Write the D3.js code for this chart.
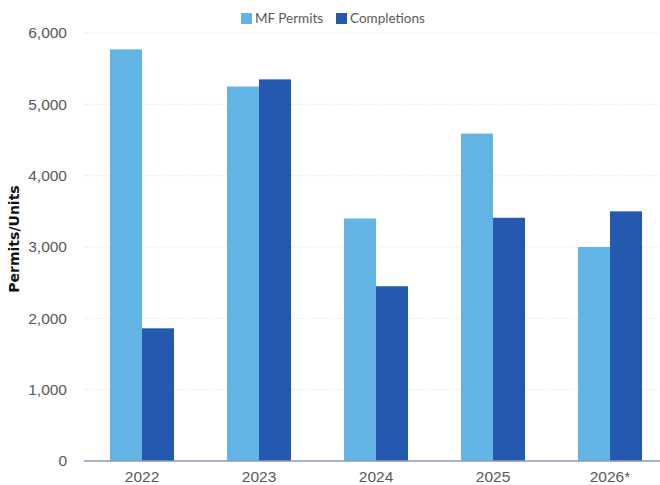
<!DOCTYPE html>
<html>
<head>
<meta charset="utf-8">
<script src="https://cdn.jsdelivr.net/npm/d3@7"></script>
<style>
  body { margin: 0; background: #fff; }
  svg { display: block; font-family: 'Lato', 'Open Sans', sans-serif; }
</style>
</head>
<body>
<svg id="chart" width="660" height="485"></svg>
<script>
const years = ['2022', '2023', '2024', '2025', '2026*'];
const seriesNames = ['MF Permits', 'Completions'];
const mfPermits = [5770, 5250, 3400, 4590, 3000];
const completions = [1860, 5350, 2450, 3410, 3500];
const yTicks = [0, 1000, 2000, 3000, 4000, 5000, 6000];
const colors = ['#62b4e4', '#2559b0'];

const margin = { top: 33, right: 0, bottom: 24, left: 84 };
const width = 660;
const height = 485;

const svg = d3.select('#chart');

const x = d3.scaleBand()
    .domain(years)
    .range([83.5, 668.5])
    .paddingInner(0.453)
    .paddingOuter(0.2265);

const xSub = d3.scaleBand()
    .domain(seriesNames)
    .range([0, x.bandwidth()]);

const y = d3.scaleLinear()
    .domain([0, 6000])
    .range([height - margin.bottom, margin.top]);

// gridlines
svg.append('g')
    .attr('class', 'grid')
    .selectAll('line')
    .data(yTicks.filter(d => d > 0))
    .enter()
    .append('line')
        .attr('x1', margin.left)
        .attr('x2', width)
        .attr('y1', d => y(d))
        .attr('y2', d => y(d))
        .attr('stroke', '#d9d9d9')
        .attr('stroke-width', 1)
        .attr('stroke-dasharray', '1,2');

// y axis labels
const yAxis = svg.append('g')
    .attr('transform', `translate(${margin.left - 17},0)`)
    .call(d3.axisLeft(y).tickValues(yTicks).tickFormat(d3.format(',')).tickSize(0).tickPadding(0));
yAxis.select('.domain').remove();
yAxis.selectAll('text')
    .attr('fill', '#595959')
    .style('font-size', '15.5px');

// bars
const rows = years.map((yr, i) => ({ year: yr, values: [mfPermits[i], completions[i]] }));

const groups = svg.append('g')
    .attr('class', 'bars')
    .selectAll('g')
    .data(rows)
    .enter()
    .append('g')
        .attr('transform', d => `translate(${x(d.year)},0)`);

groups.selectAll('rect')
    .data(d => d.values.map((v, j) => ({ key: seriesNames[j], value: v, idx: j })))
    .enter()
    .append('rect')
        .attr('x', d => xSub(d.key))
        .attr('y', d => y(d.value))
        .attr('width', xSub.bandwidth())
        .attr('height', d => y(0) - y(d.value))
        .attr('fill', d => colors[d.idx]);

// x axis
const xAxis = svg.append('g')
    .attr('transform', `translate(0,${y(0)})`)
    .call(d3.axisBottom(x).tickSize(0).tickPadding(10));
xAxis.select('.domain').remove();
xAxis.selectAll('text')
    .attr('fill', '#595959')
    .style('font-size', '15.5px');

svg.append('line')
    .attr('x1', margin.left)
    .attr('x2', width)
    .attr('y1', y(0))
    .attr('y2', y(0))
    .attr('stroke', '#8e99b6')
    .attr('stroke-width', 1.5);

// y title
svg.append('text')
    .attr('transform', `translate(19,239) rotate(-90)`)
    .attr('text-anchor', 'middle')
    .attr('fill', '#111')
    .style('font-family', "'DejaVu Sans', sans-serif")
    .style('font-size', '14px')
    .style('font-weight', 'bold')
    .text('Permits/Units');

// legend
const legendX = [241, 336];
const legend = svg.append('g')
    .attr('class', 'legend')
    .selectAll('g')
    .data(seriesNames)
    .enter()
    .append('g')
        .attr('transform', (d, i) => `translate(${legendX[i]},13)`);

legend.append('rect')
    .attr('width', 11)
    .attr('height', 11)
    .attr('fill', (d, i) => colors[i]);

legend.append('text')
    .attr('x', 14)
    .attr('y', 10)
    .attr('fill', '#595959')
    .style('font-size', '13.5px')
    .text(d => d);
</script>
</body>
</html>
